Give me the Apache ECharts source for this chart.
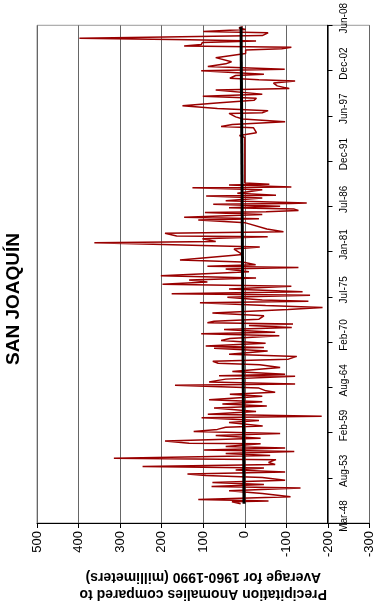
<!DOCTYPE html>
<html>
<head>
<meta charset="utf-8">
<script src="https://cdn.jsdelivr.net/npm/echarts@6/dist/echarts.min.js"></script>
<style>
  html, body { margin: 0; padding: 0; background: #fff; }
  #chart { width: 376px; height: 610px; }
</style>
</head>
<body>
<div id="chart"></div>
<script>
// date tick labels (axis runs from Mar-48 to Jun-08, 723 months)
let dateLabels = ['Mar-48', 'Aug-53', 'Feb-59', 'Aug-64', 'Feb-70', 'Jul-75',
    'Jan-81', 'Jul-86', 'Dec-91', 'Jun-97', 'Dec-02', 'Jun-08'];
let totalMonths = 723;

// months after Mar-1948, and anomaly (mm) for each point
let monthOffsets = [
    28, 31, 32, 34, 38, 43, 47, 51, 53, 56, 59, 62, 66, 69, 71, 74, 77, 80, 82, 85,
    88, 92, 94, 98, 101, 104, 106, 109, 111, 115, 116, 119, 123, 127, 130, 133, 136, 139, 141, 146,
    149, 153, 155, 158, 162, 167, 170, 173, 176, 179, 184, 187, 190, 192, 196, 200, 202, 205, 209, 213,
    214, 216, 220, 226, 230, 232, 235, 238, 242, 245, 250, 254, 255, 257, 261, 265, 268, 272, 275, 277,
    281, 284, 287, 289, 291, 293, 296, 301, 305, 307, 310, 313, 316, 320, 322, 324, 328, 331, 333, 336,
    340, 344, 347, 350, 353, 356, 359, 365, 369, 371, 373, 375, 379, 382, 390, 398, 401, 404, 407, 409,
    413, 416, 417, 421, 423, 427, 436, 440, 442, 444, 448, 451, 452, 454, 456, 458, 460, 463, 464, 465,
    468, 472, 475, 476, 479, 484, 487, 488, 491, 492, 494, 510, 530, 545, 560, 563, 567, 574, 576, 579,
    583, 587, 590, 595, 596, 599, 602, 606, 610, 614, 617, 620, 623, 629, 631, 635, 639, 642, 644, 646,
    650, 652, 657, 659, 663, 667, 670, 676, 682, 687, 689, 691, 693, 695, 698, 700, 702, 704, 706, 708,
    712, 714, 717, 719, 721
];
let anomalies = [
    10, 31, -57, 112, -110, -42, 38, -134, 80, -46, 78, -97, -42, 94, 138, -97, 22, -46, 246, -73,
    -57, -75, 315, -61, 46, -119, 98, -97, 46, -38, 134, 192, -38, 70, -85, 123, 66, 46, -43, 38,
    -34, 104, -185, 89, -27, 74, -53, 54, -42, 86, -42, 36, -73, -51, -34, 168, -121, 86, 46, -121,
    62, -97, 30, -85, -36, 64, 77, -105, -125, 38, -55, 74, -46, 94, -50, 57, 36, -83, 105, -73,
    50, -113, -10, -116, 90, 74, -34, -46, 78, 74, -104, -187, -50, 108, -153, -42, 42, -157, 176, -139,
    38, -112, 198, 90, 134, -27, 202, -10, 46, -129, 90, -26, 6, 156, 5, 26, -36, 150, 362, 70,
    102, -55, 164, 192, -93, -53, -2, 112, -34, 146, -42, 96, -51, -129, -119, 38, -85, 76, -109, -149,
    46, -42, 93, -75, 18, -42, 126, -112, 38, -59, 0, 0, 0, 0, 0, 13, -28, -21, 57, 30,
    -97, 5, 22, 38, -42, -56, 66, 150, 68, -22, -28, 101, -42, 70, -107, -78, -69, -121, -34, 36,
    22, -46, 105, -96, 89, 46, 32, 70, -2, -2, -89, -112, 146, 105, 102, -27, 134, 398, 192, -42,
    -56, 100, -2, 14, 5
];

// linear trend line, ends
let trendMonths = [28, 721];
let trendValues = [2, 9];

let dateStep = totalMonths / (dateLabels.length - 1);
let fontFam = 'Liberation Sans, Arial, sans-serif';

let anomalyData = [];
for (let i = 0; i < monthOffsets.length; i++) {
    anomalyData.push([anomalies[i], monthOffsets[i]]);
}
let trendData = [];
for (let i = 0; i < trendMonths.length; i++) {
    trendData.push([trendValues[i], trendMonths[i]]);
}

let option = {
    animation: false,
    backgroundColor: '#fff',
    textStyle: { fontFamily: fontFam },
    graphic: [
        {
            type: 'text',
            x: 14,
            y: 299,
            rotation: Math.PI / 2,
            style: {
                text: 'SAN JOAQUÍN',
                font: 'bold 19px ' + fontFam,
                fill: '#000',
                align: 'center',
                verticalAlign: 'middle'
            }
        }
    ],
    grid: {
        left: 37,
        right: 5,
        top: 19,
        bottom: 87,
        show: true,
        borderColor: '#999',
        borderWidth: 1
    },
    xAxis: {
        type: 'value',
        min: -300,
        max: 500,
        interval: 100,
        inverse: true,
        name: 'Precipitation Anomalies compared to\nAverage for 1960-1990 (millimeters)',
        nameLocation: 'middle',
        nameRotate: 180,
        nameGap: 45,
        nameTextStyle: {
            fontWeight: 'bold',
            fontSize: 14,
            lineHeight: 17,
            color: '#000',
            fontFamily: fontFam
        },
        axisLine: { show: true, onZero: false, lineStyle: { color: '#000', width: 1 } },
        axisTick: { show: true, length: 5, lineStyle: { color: '#000' } },
        splitLine: { show: true, lineStyle: { color: '#666', width: 1 } },
        axisLabel: {
            rotate: 90,
            margin: 8,
            fontSize: 13,
            color: '#000',
            fontFamily: fontFam
        }
    },
    yAxis: {
        type: 'value',
        position: 'right',
        offset: -42,
        min: 0,
        max: totalMonths,
        interval: dateStep,
        axisLine: { show: true, onZero: false, lineStyle: { color: '#000', width: 1 } },
        axisTick: { show: true, length: 5, lineStyle: { color: '#000' } },
        splitLine: { show: false },
        axisLabel: {
            rotate: 90,
            margin: 12,
            fontSize: 10,
            color: '#000',
            fontFamily: fontFam,
            padding: [0, 0, 0, 14],
            showMaxLabel: true,
            formatter: function (v) {
                return dateLabels[Math.round(v / dateStep)];
            }
        }
    },
    series: [
        {
            name: 'Anomaly',
            type: 'line',
            symbol: 'none',
            data: anomalyData,
            lineStyle: { color: '#990000', width: 1.5 }
        },
        {
            name: 'Trend',
            type: 'line',
            symbol: 'none',
            data: trendData,
            lineStyle: { color: '#000', width: 3 }
        }
    ]
};

let chart = echarts.init(document.getElementById('chart'));
chart.setOption(option);
</script>
</body>
</html>
